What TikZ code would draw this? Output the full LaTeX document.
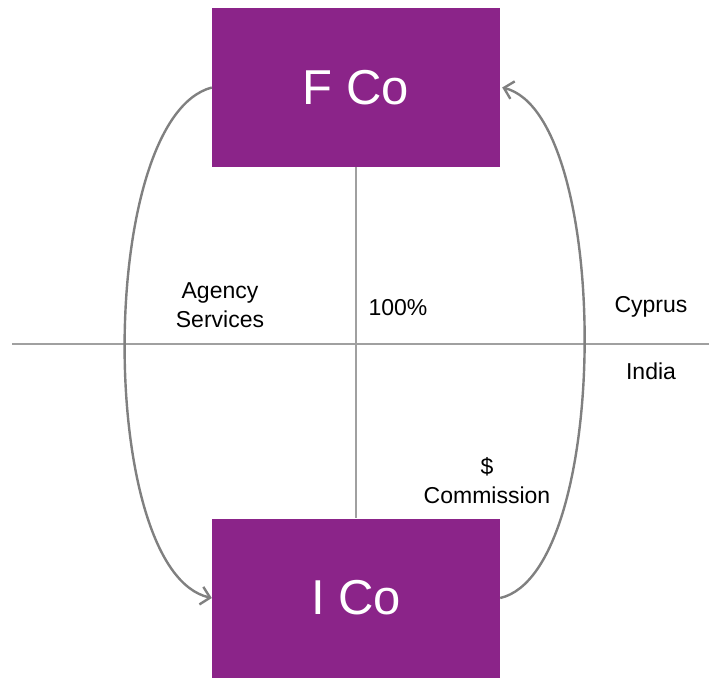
\documentclass[tikz,border=0pt]{standalone}
\usepackage{fontspec}
\setmainfont{Liberation Sans}
\usepackage{tikz}
\usetikzlibrary{arrows.meta}

\definecolor{copurple}{RGB}{139,36,137}
\definecolor{flowgray}{RGB}{128,128,128}
\definecolor{axisgray}{RGB}{160,160,160}

\begin{document}
\begin{tikzpicture}[x=1pt,y=-1pt,
    company/.style={fill=copurple,text=white,minimum width=288pt,minimum height=159pt,
      inner sep=0pt,font=\fontsize{49}{56}\selectfont},
    note/.style={font=\fontsize{23}{29}\selectfont,align=center,inner sep=0pt},
    flow/.style={draw=flowgray,line width=2.4pt},
    axis/.style={draw=axisgray,line width=1.8pt},
    >={Straight Barb[length=9pt,width=18pt,line width=2.4pt]}]
    \useasboundingbox (0,0) rectangle (709,678);

    \node[company] (fco) at (356,87.5) {F Co};
    \node[company] (ico) at (356,598) {I Co};

    \coordinate (border-west) at (12,344);
    \coordinate (border-east) at (709,344);

    \path (fco.south)    edge[axis] (ico.north)
          (border-west)  edge[axis] (border-east);

    % services go down, payment comes back up
    \draw[flow,->] (fco.west) .. controls (96,118) and (96,572) .. (ico.west);
    \draw[flow,->] (ico.east) .. controls (612,572) and (612,115) .. ([xshift=2pt]fco.east);

    \node[note] (services)   at (220,305) {Agency\\Services};
    \node[note] (share)      at (398,308) {100\%};
    \node[note] (cyprus)     at (651,307) {Cyprus};
    \node[note] (india)      at (651,371) {India};
    \node[note] (commission) at (487,481) {\$\\Commission};
\end{tikzpicture}
\end{document}
